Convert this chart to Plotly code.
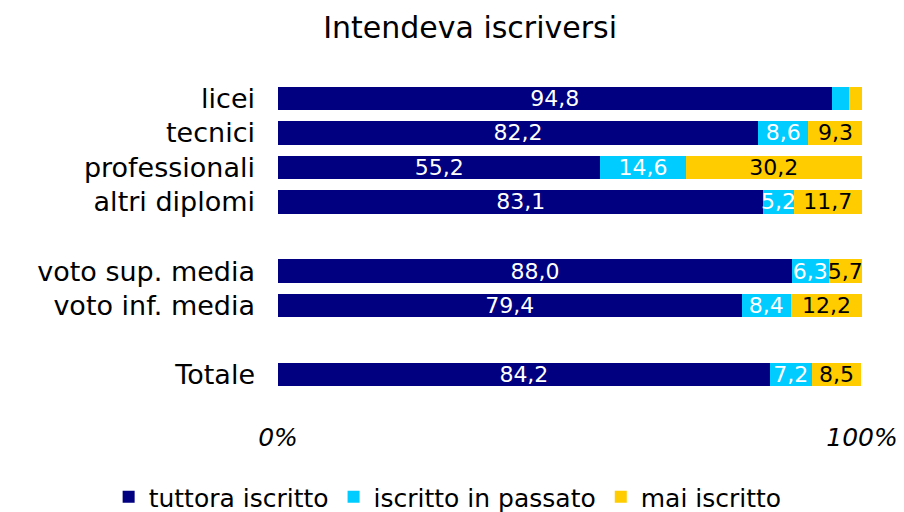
import plotly.graph_objects as go

categories = ["licei", "tecnici", "professionali", "altri diplomi", " ",
              "voto sup. media", "voto inf. media", "  ", "Totale"]
tuttora = [94.8, 82.2, 55.2, 83.1, None, 88.0, 79.4, None, 84.2]
passato = [3.0, 8.6, 14.6, 5.2, None, 6.3, 8.4, None, 7.2]
mai = [2.2, 9.3, 30.2, 11.7, None, 5.7, 12.2, None, 8.5]
series_names = ["tuttora iscritto", "iscritto in passato", "mai iscritto"]
colors = ["#000080", "#00CCFF", "#FFCC00"]
text_colors = ["white", "white", "black"]
x_ticks = [0, 100]
x_ticktext = ["0%", "100%"]

FONT = "DejaVu Sans, Verdana, sans-serif"


def labels(vals):
    out = []
    for v in vals:
        if v is None or v < 4:
            out.append("")
        else:
            out.append(f"{v:.1f}".replace(".", ","))
    return out


fig = go.Figure()
for name, vals, col, tcol in zip(series_names, [tuttora, passato, mai], colors, text_colors):
    fig.add_trace(go.Bar(
        y=categories, x=vals, name=name, orientation="h",
        marker=dict(color=col, line=dict(width=0)),
        text=labels(vals), textposition="inside", insidetextanchor="middle",
        textfont=dict(color=tcol, size=22, family=FONT),
        hoverinfo="x+name",
    ))

fig.update_layout(
    barmode="stack",
    bargap=0.32,
    width=904, height=512,
    margin=dict(l=278, r=42, t=81, b=120, autoexpand=False),
    paper_bgcolor="white", plot_bgcolor="white",
    font=dict(family=FONT, color="black"),
    uniformtext=dict(minsize=22, mode="show"),
    title=dict(text="Intendeva iscriversi", x=0.52, xref="container", xanchor="center",
               y=0.947, yref="container", yanchor="middle",
               font=dict(size=30, family=FONT, color="black")),
    xaxis=dict(range=[0, 100], tickvals=x_ticks, ticktext=x_ticktext,
               showgrid=False, zeroline=False, showline=False, ticks="",
               ticklabelstandoff=28, automargin=False,
               tickfont=dict(size=25, style="italic", family=FONT)),
    yaxis=dict(categoryorder="array", categoryarray=categories, autorange="reversed",
               showgrid=False, zeroline=False, showline=False, ticks="",
               ticklabelstandoff=22, automargin=False,
               tickfont=dict(size=27, family=FONT)),
    legend=dict(orientation="h", xref="paper", x=-0.29, xanchor="left",
                yref="paper", y=-0.338, yanchor="middle",
                font=dict(size=25, family=FONT), traceorder="normal",
                itemwidth=30, itemclick=False, tracegroupgap=0),
    showlegend=True,
)

fig.write_html("out.html", config={"displayModeBar": False},
               post_script="document.body.style.margin='0';")
